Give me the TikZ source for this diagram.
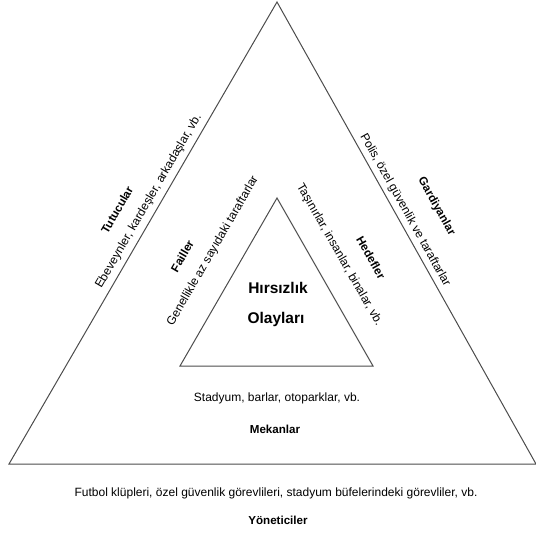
\documentclass[tikz,border=0pt]{standalone}
\usepackage{fontspec}
\setmainfont{Liberation Sans}
\usetikzlibrary{calc}
\begin{document}
\begin{tikzpicture}[x=1pt,y=-1pt,
    side/.style={draw=black!70,line width=1pt},
    txt/.style={inner sep=0pt,font=\fontsize{12}{14}\selectfont},
    hdr/.style={inner sep=0pt,font=\fontsize{11.6}{14}\selectfont\bfseries}]
  \useasboundingbox (0,0) rectangle (536,535);
  \coordinate (ol) at (9,464);
  \coordinate (ot) at (277,2);
  \coordinate (or) at (536,464);
  \coordinate (il) at (180,366);
  \coordinate (it) at (277,198);
  \coordinate (ir) at (373,366);
  \draw[side] (ol) -- (ot) -- (or) -- cycle;
  \draw[side] (il) -- (it) -- (ir) -- cycle;
  % centre
  \node[hdr,font=\fontsize{15.5}{18}\selectfont\bfseries,anchor=base] (hir) at (278,293) {Hırsızlık};
  \node[hdr,font=\fontsize{15.5}{18}\selectfont\bfseries,anchor=base] (ola) at (276,323) {Olayları};
  % outer left
  \node[txt,rotate=59.88] (ebe) at ($(ol)!0.557!(ot)!11pt!90:(ot)$) {Ebeveynler, kardeşler, arkadaşlar, vb.};
  \node[hdr,rotate=59.88] (tut) at ($(ol)!0.513!(ot)!34pt!90:(ot)$) {Tutucular};
  % outer right
  \node[txt,rotate=-60.77] (pol) at ($(ot)!0.461!(or)!10pt!90:(or)$) {Polis, özel güvenlik ve taraftarlar};
  \node[hdr,rotate=-60.77] (gar) at ($(ot)!0.484!(or)!39pt!90:(or)$) {Gardiyanlar};
  % inner left
  \node[txt,rotate=60] (gen) at ($(il)!0.598!(it)!29pt!90:(it)$) {Genellikle az sayıdaki taraftarlar};
  \node[hdr,rotate=60] (fai) at ($(il)!0.496!(it)!53pt!90:(it)$) {Failler};
  % inner right
  \node[txt,rotate=-60.26] (tas) at ($(it)!0.415!(ir)!26pt!90:(ir)$) {Taşınırlar, insanlar, binalar, vb.};
  \node[hdr,rotate=-60.26] (hed) at ($(it)!0.509!(ir)!52pt!90:(ir)$) {Hedefler};
  % bottom
  \node[txt,anchor=base] (sta) at (277,401) {Stadyum, barlar, otoparklar, vb.};
  \node[hdr,anchor=base] (mek) at (275,433) {Mekanlar};
  \node[txt,anchor=base] (fut) at (276,496) {Futbol klüpleri, özel güvenlik görevlileri, stadyum büfelerindeki görevliler, vb.};
  \node[hdr,anchor=base] (yon) at (278,524) {Yöneticiler};
\end{tikzpicture}
\end{document}
